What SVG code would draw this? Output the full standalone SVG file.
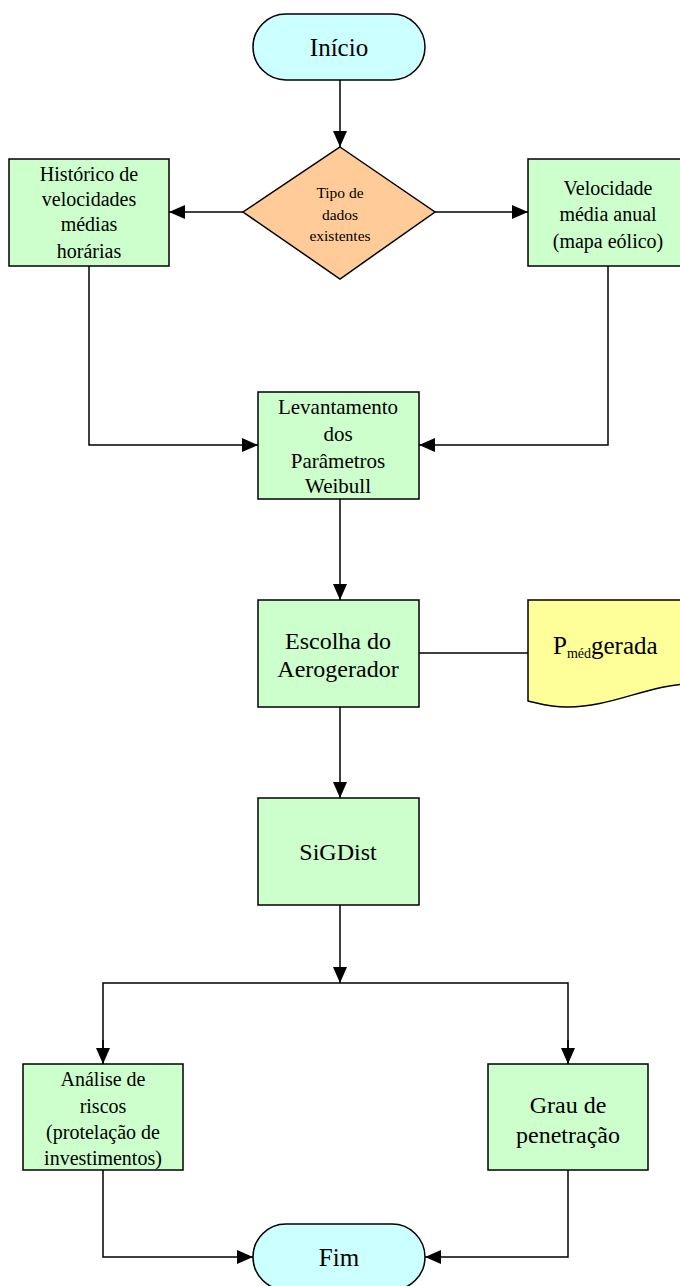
<svg xmlns="http://www.w3.org/2000/svg" width="680" height="1286" viewBox="0 0 680 1286">
<style>
.box{fill:#CCFFCC;stroke:#000;stroke-width:1.5}
.term{fill:#CCFFFF;stroke:#000;stroke-width:1.5}
.dec{fill:#FFCC99;stroke:#000;stroke-width:1.5}
.doc{fill:#FFFF99;stroke:#000;stroke-width:1.5}
.ln{fill:none;stroke:#000;stroke-width:1.5}
text{font-family:"Liberation Serif","Times New Roman",serif;fill:#000;text-anchor:middle}
.t17{font-size:20px}
.t19{font-size:21px}
.t22{font-size:24px}
.t25{font-size:25px}
.t13{font-size:15.5px}
</style>
<defs>
<marker id="ah" markerUnits="userSpaceOnUse" markerWidth="16" markerHeight="14" refX="16" refY="7" orient="auto">
<path d="M0,0 L16,7 L0,14 Z" fill="#000"/>
</marker>
</defs>
<g id="connectors">
<line class="ln" x1="340" y1="80" x2="340" y2="147" marker-end="url(#ah)"/>
<line class="ln" x1="243" y1="212" x2="169" y2="212" marker-end="url(#ah)"/>
<line class="ln" x1="435" y1="212" x2="528" y2="212" marker-end="url(#ah)"/>
<polyline class="ln" points="89,266 89,445 258,445" marker-end="url(#ah)"/>
<polyline class="ln" points="608,266 608,445 419,445" marker-end="url(#ah)"/>
<line class="ln" x1="340" y1="499" x2="340" y2="600" marker-end="url(#ah)"/>
<line class="ln" x1="419" y1="653" x2="528" y2="653"/>
<line class="ln" x1="340" y1="707" x2="340" y2="798" marker-end="url(#ah)"/>
<line class="ln" x1="340" y1="905" x2="340" y2="983" marker-end="url(#ah)"/>
<polyline class="ln" points="103,1064 103,983 568,983 568,1064"/>
<line class="ln" x1="103" y1="1040" x2="103" y2="1064" marker-end="url(#ah)"/>
<line class="ln" x1="568" y1="1040" x2="568" y2="1064" marker-end="url(#ah)"/>
<polyline class="ln" points="103,1170 103,1257 253,1257" marker-end="url(#ah)"/>
<polyline class="ln" points="568,1170 568,1257 425,1257" marker-end="url(#ah)"/>
</g>
<g id="inicio">
<rect class="term" x="253" y="14" width="172" height="66" rx="33" ry="33"/>
<text class="t25" x="339" y="56">Início</text>
</g>
<g id="tipo">
<polygon class="dec" points="340,147 435,212 340,279 243,212"/>
<text class="t13" x="340" y="198">Tipo de</text>
<text class="t13" x="340" y="220">dados</text>
<text class="t13" x="340" y="241">existentes</text>
</g>
<g id="historico">
<rect class="box" x="9" y="159" width="160" height="107"/>
<text class="t17" x="89" y="181">Histórico de</text>
<text class="t17" x="89" y="206">velocidades</text>
<text class="t17" x="89" y="231">médias</text>
<text class="t17" x="89" y="258">horárias</text>
</g>
<g id="velocidade">
<rect class="box" x="528" y="159" width="160" height="107"/>
<text class="t17" x="608" y="195">Velocidade</text>
<text class="t17" x="608" y="221">média anual</text>
<text class="t17" x="608" y="248">(mapa eólico)</text>
</g>
<g id="levantamento">
<rect class="box" x="258" y="392" width="161" height="107"/>
<text class="t19" x="338" y="414">Levantamento</text>
<text class="t19" x="338" y="441">dos</text>
<text class="t19" x="338" y="468">Parâmetros</text>
<text class="t19" x="338" y="493">Weibull</text>
</g>
<g id="escolha">
<rect class="box" x="258" y="600" width="161" height="107"/>
<text class="t22" x="338" y="649">Escolha do</text>
<text class="t22" x="338" y="677">Aerogerador</text>
</g>
<g id="pmed">
<path class="doc" d="M528,600 H690 V684 C650,684 610,708 566,707 C550,707 538,703 528,701 Z"/>
<text class="t25" x="553" y="654" style="text-anchor:start">P<tspan style="font-size:14px" dy="4">méd</tspan><tspan dy="-4">gerada</tspan></text>
</g>
<g id="sigdist">
<rect class="box" x="258" y="798" width="161" height="107"/>
<text class="t22" x="338" y="860">SiGDist</text>
</g>
<g id="analise">
<rect class="box" x="23" y="1064" width="160" height="106"/>
<text class="t17" x="103" y="1086">Análise de</text>
<text class="t17" x="103" y="1113">riscos</text>
<text class="t17" x="103" y="1139">(protelação de</text>
<text class="t17" x="103" y="1165">investimentos)</text>
</g>
<g id="grau">
<rect class="box" x="488" y="1064" width="160" height="106"/>
<text class="t22" x="568" y="1113">Grau de</text>
<text class="t22" x="568" y="1143">penetração</text>
</g>
<g id="fim">
<rect class="term" x="253" y="1224" width="172" height="66" rx="33" ry="33"/>
<text class="t25" x="339" y="1266">Fim</text>
</g>
</svg>
